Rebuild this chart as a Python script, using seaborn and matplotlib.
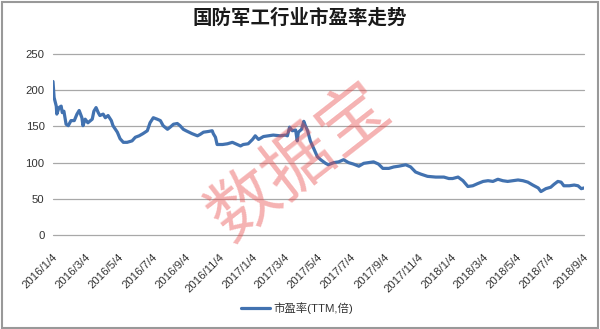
import matplotlib
matplotlib.use('Agg')
import matplotlib.pyplot as plt
import matplotlib.transforms as mtransforms
from matplotlib.patches import Rectangle
from matplotlib.lines import Line2D
import seaborn as sns
import pandas as pd

# ---------------- data ----------------
start_date = '2016-01-04'
# days since 2016-01-04
day_offsets = [0, 2, 6, 7, 11, 15, 17, 20, 24, 28, 33, 39, 44, 48, 53, 55, 59, 64, 72, 75,
               79, 83, 86, 92, 96, 101, 107, 110, 118, 123, 129, 136, 145, 151, 158, 165, 173, 178, 184, 191,
               197, 202, 210, 215, 221, 228, 233, 239, 244, 255, 265, 270, 276, 285, 292, 294, 298, 301, 311, 320,
               329, 338, 344, 349, 358, 366, 371, 377, 386, 395, 404, 417, 426, 430, 434, 439, 445, 448, 450, 456,
               460, 463, 467, 472, 478, 485, 491, 500, 505, 515, 524, 533, 542, 551, 561, 570, 579, 588, 597, 605,
               616, 625, 634, 647, 656, 665, 675, 687, 702, 717, 726, 733, 743, 752, 761, 770, 779, 789, 798, 807,
               816, 825, 834, 844, 853, 862, 871, 880, 890, 895, 904, 913, 919, 926, 932, 937, 947, 956, 963, 969,
               974]
pe_values = [212, 190, 178, 167, 176, 178, 169, 171, 153, 151, 158, 158, 167, 172, 162, 151, 160, 155, 160, 171,
             176, 169, 165, 167, 162, 165, 158, 151, 142, 133, 128, 128, 130, 135, 137, 140, 144, 155, 162, 160,
             158, 151, 146, 149, 153, 154, 151, 146, 144, 140, 137, 139, 142, 143, 144, 140, 135, 125, 125, 126,
             128, 125, 123, 125, 126, 132, 137, 132, 136, 137, 138, 137, 138, 137, 149, 144, 145, 130, 142, 146,
             157, 151, 144, 130, 120, 108, 104, 99, 97, 100, 101, 104, 100, 98, 95, 99, 100, 101, 98, 92,
             92, 94, 95, 97, 94, 87, 84, 81, 80, 80, 78, 78, 80, 75, 67, 68, 71, 74, 75, 74,
             77, 75, 74, 75, 76, 75, 73, 69, 65, 60, 64, 66, 70, 74, 73, 68, 68, 69, 68, 64,
             65]
tick_labels = ['2016/1/4', '2016/3/4', '2016/5/4', '2016/7/4', '2016/9/4', '2016/11/4',
               '2017/1/4', '2017/3/4', '2017/5/4', '2017/7/4', '2017/9/4', '2017/11/4',
               '2018/1/4', '2018/3/4', '2018/5/4', '2018/7/4', '2018/9/4']
y_ticks = [0, 50, 100, 150, 200, 250]
title_text = '国防军工行业市盈率走势'
series_name = '市盈率(TTM,倍)'
watermark_text = '数据宝'

# ---------------- style ----------------
sns.set_theme(style='white')
plt.rcParams['font.family'] = ['Liberation Sans', 'Noto Sans CJK SC', 'DejaVu Sans']

line_color = '#4272b0'
grid_color = '#a8a8a8'
text_color = '#333333'

dates = pd.Timestamp(start_date) + pd.to_timedelta(day_offsets, unit='D')
df = pd.DataFrame({'date': dates, 'pe': pe_values, 'series': series_name})
tick_dates = pd.to_datetime(tick_labels, format='%Y/%m/%d')

fig = plt.figure(figsize=(6.0, 3.29), dpi=100)
fig.patch.set_facecolor('white')
ax = fig.add_axes([53 / 600, 1 - 235 / 329, (584 - 53) / 600, (235 - 54) / 329])

sns.lineplot(data=df, x='date', y='pe', hue='series', palette=[line_color],
             linewidth=2.3, ax=ax, legend=False, zorder=3)

ax.set_xlim(dates[0], dates[-1])
ax.set_ylim(0, 250)
ax.set_yticks(y_ticks)
ax.set_yticklabels([str(v) for v in y_ticks])
ax.set_xticks(tick_dates)
ax.set_xticklabels(tick_labels, rotation=45, ha='right', va='center', rotation_mode='anchor')
ax.tick_params(axis='x', length=0, pad=15, labelsize=8.2, labelcolor=text_color)
ax.tick_params(axis='y', length=0, pad=6, labelsize=8.2, labelcolor=text_color)
shift = mtransforms.ScaledTranslation(3 / 100, 0, fig.dpi_scale_trans)
for lbl in ax.get_xticklabels():
    lbl.set_transform(lbl.get_transform() + shift)

ax.set_xlabel('')
ax.set_ylabel('')
ax.grid(False)
ax.yaxis.grid(True, color=grid_color, linewidth=0.9)
for s in ax.spines.values():
    s.set_visible(False)
ax.set_facecolor('white')
for gl in ax.yaxis.get_gridlines():
    gl.set_clip_on(False)

# title
fig.text(0.5, 1 - 18 / 329, title_text, ha='center', va='center', fontsize=14,
         fontweight='bold', family=['Noto Sans CJK SC'], color='#1a1a1a')

# legend
handle = Line2D([0], [0], color=line_color, linewidth=2.3)
fig.legend([handle], [series_name], loc='center', bbox_to_anchor=(0.495, 1 - 308 / 329),
           frameon=False, handlelength=2.5, handletextpad=0.3, fontsize=8.2,
           labelcolor=text_color)

# watermark
fig.text(300 / 600, 1 - 163 / 329, watermark_text, rotation=38, fontsize=50,
         color='#e84848', alpha=0.42, ha='center', va='center',
         family=['Noto Sans CJK SC'], zorder=10)

# figure border
fig.patches.append(Rectangle((1.5 / 600, 1.5 / 329), 596 / 600, 326 / 329,
                             transform=fig.transFigure, fill=False,
                             edgecolor='#999999', linewidth=1.5))

fig.savefig('out.png', dpi=100)
